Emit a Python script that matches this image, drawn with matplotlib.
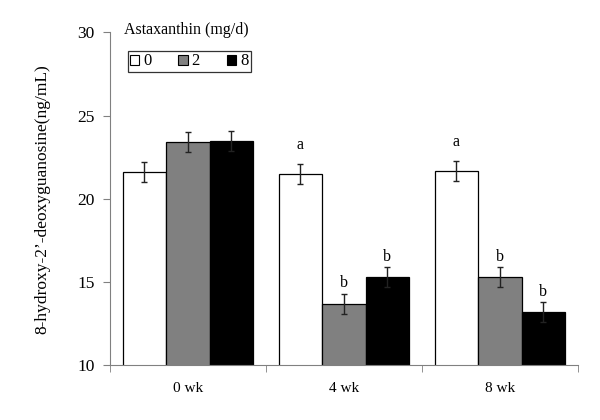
import numpy as np
import matplotlib.pyplot as plt

# Data
groups = ['0 wk', '4 wk', '8 wk']
doses = ['0', '2', '8']
means = [[21.6, 21.5, 21.7],   # 0 mg/d
         [23.4, 13.7, 15.3],   # 2 mg/d
         [23.5, 15.3, 13.2]]   # 8 mg/d
errors = [[0.6, 0.6, 0.6],
          [0.6, 0.6, 0.6],
          [0.6, 0.6, 0.6]]
letters = [['', 'a', 'a'],
           ['', 'b', 'b'],
           ['', 'b', 'b']]

colors = ['white', '#808080', 'black']
letter_pad = {'a': 0.65, 'b': 0.15}

plt.rcParams['font.family'] = ['Liberation Serif', 'DejaVu Serif']

fig = plt.figure(figsize=(6, 4.2), dpi=100)
ax = fig.add_axes([0.183, 0.13, 0.78, 0.793])

x = np.arange(len(groups))
width = 0.279
for i in range(len(doses)):
    pos = x + (i - 1) * width
    ax.bar(pos, means[i], width, bottom=0, color=colors[i], edgecolor='black',
           linewidth=0.9, label=doses[i], zorder=2)
    ax.errorbar(pos, means[i], yerr=errors[i], fmt='none', ecolor='#222222',
                elinewidth=1, capsize=2.5, capthick=1, zorder=3)
    # significance letters above the error bars
    for j in range(len(groups)):
        if letters[i][j]:
            ax.text(pos[j], means[i][j] + errors[i][j] + letter_pad[letters[i][j]],
                    letters[i][j], ha='center', va='bottom', fontsize=11.5)

ax.set_ylim(10, 30)
ax.set_xlim(-0.5, 2.5)
ax.set_yticks([10, 15, 20, 25, 30])
ax.set_xticks(x)
ax.set_xticklabels(groups, fontsize=11)
ax.set_xticks([-0.5, 0.5, 1.5, 2.5], minor=True)
ax.tick_params(axis='x', which='major', length=0, pad=12)
ax.tick_params(axis='x', which='minor', length=5, color='#808080')
ax.tick_params(axis='y', length=5, color='#808080', labelsize=12.5, pad=6)

for s in ['top', 'right']:
    ax.spines[s].set_visible(False)
for s in ['left', 'bottom']:
    ax.spines[s].set_color('#808080')

ax.set_ylabel('8-hydroxy-2\u2019-deoxyguanosine(ng/mL)', fontsize=12.5, labelpad=19)

# legend title sits above the boxed legend
fig.text(0.207, 0.929, 'Astaxanthin (mg/d)', fontsize=11.5, va='center')
leg = ax.legend(loc='upper left', bbox_to_anchor=(0.038, 0.944), ncol=3,
                frameon=True, fancybox=False, edgecolor='black', fontsize=12,
                handlelength=0.55, handleheight=0.55, handletextpad=0.25,
                columnspacing=1.6, borderpad=0.15, borderaxespad=0)
leg.get_frame().set_linewidth(0.9)
for h in leg.legend_handles:
    h.set_linewidth(0.8)

fig.savefig('out.png', dpi=100)
